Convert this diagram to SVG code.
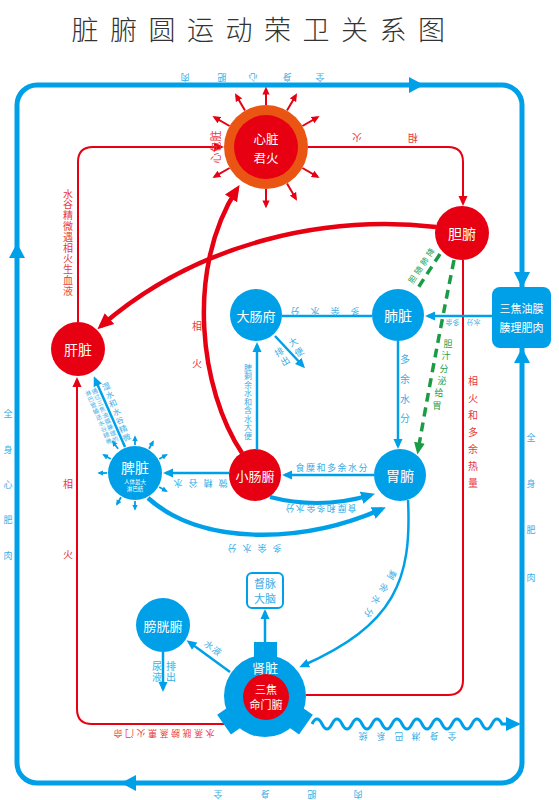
<svg xmlns="http://www.w3.org/2000/svg" width="559" height="800" viewBox="0 0 559 800">
<style>
text{font-family:"Noto Sans CJK SC","Noto Sans CJK JP","Noto Sans",sans-serif;text-anchor:middle;dominant-baseline:central}
.w{fill:#fff}
.b{fill:#3aaee6}
.r{fill:#e8383d}
.g{fill:#1f9e48}
.s5{font-size:5.5px}.s6{font-size:6px}.s7{font-size:7px}.s8{font-size:8px}.s9{font-size:9px}.s10{font-size:10px}.s11{font-size:11px}.s12{font-size:12px}.s125{font-size:12.5px}.s13{font-size:13px}.s14{font-size:14px}
.cb{stroke:#00a0e9;fill:none}
.cr{stroke:#e60012;fill:none}
.cg{stroke:#1a9b45;fill:none;stroke-width:3.5;stroke-dasharray:9,6}
.nb{fill:#00a0e9}.nr{fill:#e60012}
</style>
<defs>
<marker id="mb" viewBox="0 0 10 10" refX="7" refY="5" markerWidth="10" markerHeight="10" markerUnits="userSpaceOnUse" orient="auto"><path d="M0,0.5L10,5L0,9.5z" fill="#00a0e9"/></marker>
<marker id="mbt" viewBox="0 0 10 10" refX="7" refY="5" markerWidth="14" markerHeight="14" markerUnits="userSpaceOnUse" orient="auto"><path d="M0,0.5L10,5L0,9.5z" fill="#00a0e9"/></marker>
<marker id="mbs" viewBox="0 0 10 10" refX="7" refY="5" markerWidth="6" markerHeight="6" markerUnits="userSpaceOnUse" orient="auto"><path d="M0,0.5L10,5L0,9.5z" fill="#00a0e9"/></marker>
<marker id="mr" viewBox="0 0 10 10" refX="7" refY="5" markerWidth="10" markerHeight="10" markerUnits="userSpaceOnUse" orient="auto"><path d="M0,0.5L10,5L0,9.5z" fill="#e60012"/></marker>
<marker id="mrt" viewBox="0 0 10 10" refX="7" refY="5" markerWidth="16" markerHeight="16" markerUnits="userSpaceOnUse" orient="auto"><path d="M0,0.5L10,5L0,9.5z" fill="#e60012"/></marker>
<marker id="mrs" viewBox="0 0 10 10" refX="7" refY="5" markerWidth="8" markerHeight="8" markerUnits="userSpaceOnUse" orient="auto"><path d="M0,0.5L10,5L0,9.5z" fill="#e60012"/></marker>
<marker id="mg" viewBox="0 0 10 10" refX="7" refY="5" markerWidth="12" markerHeight="12" markerUnits="userSpaceOnUse" orient="auto"><path d="M0,0.5L10,5L0,9.5z" fill="#1a9b45"/></marker>
</defs>
<rect width="559" height="800" fill="#fff"/>
<text x="85 123.5 162 200.5 239 277.5 316 354.5 393 431.5" y="28" font-size="27" fill="#333" style="font-weight:300">脏腑圆运动荣卫关系图</text>

<g id="connectors">
<rect class="cb" x="17" y="85" width="505" height="698" rx="20" stroke-width="5"/>
<polygon class="nb" points="409,77 424,85 409,93"/>
<polygon class="nb" points="9,258 17,243 25,258"/>
<polygon class="nb" points="136,775 121,783 136,791"/>
<polygon class="nb" points="514,272 530,272 522,288"/>
<polygon class="nb" points="514,363 530,363 522,348"/>
<path class="cb" stroke-width="3" d="M312,724 q5,-10 10,0 t10,0 t10,0 t10,0 t10,0 t10,0 t10,0 t10,0 t10,0 t10,0 t10,0 t10,0 t10,0 t10,0 t10,0 t10,0 t10,0 t10,0 t10,0 L508,724"/>
<polygon class="nb" points="506,717 521,724 506,731"/>

<path class="cr" stroke-width="2" d="M78,322 L78,162 Q78,147 93,147 L221,147" marker-end="url(#mr)"/>
<path class="cr" stroke-width="2" d="M308,147 L448,147 Q463,147 463,162 L463,203" marker-end="url(#mr)"/>
<path class="cr" stroke-width="4.5" d="M436,227 C330,215 200,240 101,326" marker-end="url(#mrt)"/>
<path class="cr" stroke-width="4.5" d="M242,453 C200,390 185,270 237,189" marker-end="url(#mrt)"/>
<path class="cr" stroke-width="2" d="M463,260 L463,680 Q463,695 448,695 L306,695"/>
<path class="cr" stroke-width="2" d="M228,724 L92,724 Q77,724 77,709 L77,380" marker-end="url(#mr)"/>

<path class="cb" stroke-width="2.5" d="M492,316 L428,316" marker-end="url(#mb)"/>
<path class="cb" stroke-width="2.5" d="M282,316 L372,316"/>
<path class="cb" stroke-width="2.5" d="M398,341 L398,446" marker-end="url(#mb)"/>
<path class="cb" stroke-width="2.5" d="M257,449 L257,345" marker-end="url(#mb)"/>
<path class="cb" stroke-width="2.5" d="M275,336 L303,366" marker-end="url(#mb)"/>
<path class="cb" stroke-width="2.5" d="M374,475 L285,475" marker-end="url(#mb)"/>
<path class="cb" stroke-width="2.5" d="M229,473 L166,473" marker-end="url(#mb)"/>
<path class="cb" stroke-width="4" d="M270,497 Q320,510 371,495" marker-end="url(#mbt)"/>
<path class="cb" stroke-width="4.5" d="M148,498 C200,545 300,545 382,509" marker-end="url(#mbt)"/>
<path class="cb" stroke-width="2.5" d="M125,447 L95,379" marker-end="url(#mb)"/>
<path class="cb" stroke-width="2.5" d="M408,500 C412,580 395,625 302,666" marker-end="url(#mb)"/>
<path class="cb" stroke-width="2.5" d="M265,643 L265,612" marker-end="url(#mb)"/>
<path class="cb" stroke-width="2.5" d="M230,672 L189,642" marker-end="url(#mb)"/>
<path class="cb" stroke-width="2.5" d="M163,652 L163,689" marker-end="url(#mb)"/>

<path class="cg" d="M440,254 L416,291"/>
<path class="cg" d="M454,260 Q432,370 418,451" marker-end="url(#mg)"/>
</g>

<g id="labels">
<text class="b s9" x="185" y="77" transform="rotate(180 185 77)">肉</text>
<text class="b s9" x="222" y="77" transform="rotate(180 222 77)">肥</text>
<text class="b s9" x="253" y="77" transform="rotate(180 253 77)">心</text>
<text class="b s9" x="287" y="77" transform="rotate(180 287 77)">身</text>
<text class="b s9" x="320" y="77" transform="rotate(180 320 77)">全</text>
<text class="b s9" x="218" y="794" transform="rotate(180 218 794)">全</text>
<text class="b s9" x="265" y="794" transform="rotate(180 265 794)">身</text>
<text class="b s9" x="312" y="794" transform="rotate(180 312 794)">肥</text>
<text class="b s9" x="358" y="794" transform="rotate(180 358 794)">肉</text>
<text class="b s9" x="8 8 8 8 8" y="413 449 484 519 555">全身心肥肉</text>
<text class="b s9" x="531 531 531 531" y="437 483 529 577">全身肥肉</text>

<text class="r s10" x="357" y="138" transform="rotate(180 357 138)">火</text>
<text class="r s10" x="413" y="138" transform="rotate(180 413 138)">相</text>
<text class="r s10" x="68 68 68 68 68 68 68 68 68 68" y="193 203.8 214.6 225.4 236.2 247 257.8 268.6 279.4 290.2">水谷精微遇相火生血液</text>
<text class="r s10" x="68 68" y="483 553">相火</text>
<text class="r s10" x="197 197" y="325 362">相火</text>
<text class="r s10" x="473 473 473 473 473 473 473" y="380 397 414 431 448 465 482">相火和多余热量</text>
<text class="r s9" x="118" y="733" transform="rotate(180 118 733)">命</text>
<text class="r s9" x="129.5" y="733" transform="rotate(180 129.5 733)">门</text>
<text class="r s9" x="141" y="733" transform="rotate(180 141 733)">火</text>
<text class="r s9" x="152.5" y="733" transform="rotate(180 152.5 733)">熏</text>
<text class="r s9" x="164" y="733" transform="rotate(180 164 733)">蒸</text>
<text class="r s9" x="175.5" y="733" transform="rotate(180 175.5 733)">膀</text>
<text class="r s9" x="187" y="733" transform="rotate(180 187 733)">胱</text>
<text class="r s9" x="198.5" y="733" transform="rotate(180 198.5 733)">蒸</text>
<text class="r s9" x="210" y="733" transform="rotate(180 210 733)">水</text>

<text class="b s9" x="295" y="311" transform="rotate(180 295 311)">分</text>
<text class="b s9" x="315" y="311" transform="rotate(180 315 311)">水</text>
<text class="b s9" x="335" y="311" transform="rotate(180 335 311)">余</text>
<text class="b s9" x="355" y="311" transform="rotate(180 355 311)">多</text>
<text class="b s9" x="293" y="342" transform="rotate(-31 293 342)">大</text>
<text class="b s9" x="299" y="352" transform="rotate(-31 299 352)">便</text>
<text class="b s9" x="279" y="352" transform="rotate(-31 279 352)">排</text>
<text class="b s9" x="285" y="361" transform="rotate(-31 285 361)">出</text>
<text class="b s8" x="248 248 248 248 248 248 248 248 248" y="367 375.5 384 392.5 401 409.5 418 426.5 435">脾剩余水和含水大便</text>
<text class="b s10" x="405 405 405 405" y="358 378 398 417">多余水分</text>
<text class="b s7" x="449" y="323" transform="rotate(180 449 323)">余</text>
<text class="b s7" x="456" y="323" transform="rotate(180 456 323)">多</text>
<text class="b s7" x="470" y="323" transform="rotate(180 470 323)">分</text>
<text class="b s7" x="477" y="323" transform="rotate(180 477 323)">水</text>
<text class="b s9" x="178" y="483" transform="rotate(180 178 483)">水</text>
<text class="b s9" x="193" y="483" transform="rotate(180 193 483)">谷</text>
<text class="b s9" x="208" y="483" transform="rotate(180 208 483)">精</text>
<text class="b s9" x="223" y="483" transform="rotate(180 223 483)">微</text>
<text class="b s9" x="300 310.5 321 331.5 342 352.5 363" y="467">食糜和多余水分</text>
<text class="b s9" x="290" y="508" transform="rotate(180 290 508)">分</text>
<text class="b s9" x="300" y="508" transform="rotate(180 300 508)">水</text>
<text class="b s9" x="311" y="508" transform="rotate(180 311 508)">余</text>
<text class="b s9" x="321" y="508" transform="rotate(180 321 508)">多</text>
<text class="b s9" x="331" y="508" transform="rotate(180 331 508)">和</text>
<text class="b s9" x="342" y="508" transform="rotate(180 342 508)">糜</text>
<text class="b s9" x="352" y="508" transform="rotate(180 352 508)">食</text>
<text class="b s9" x="232" y="548" transform="rotate(180 232 548)">分</text>
<text class="b s9" x="247" y="548" transform="rotate(180 247 548)">水</text>
<text class="b s9" x="262" y="548" transform="rotate(180 262 548)">余</text>
<text class="b s9" x="277" y="548" transform="rotate(180 277 548)">多</text>
<text class="b s9" x="392" y="575" transform="rotate(120 392 575)">剩</text>
<text class="b s9" x="384" y="588" transform="rotate(120 384 588)">余</text>
<text class="b s9" x="376" y="600" transform="rotate(120 376 600)">水</text>
<text class="b s9" x="369" y="613" transform="rotate(120 369 613)">分</text>
<text class="b s9" x="209" y="645" transform="rotate(37 209 645)">水</text>
<text class="b s9" x="217" y="651" transform="rotate(37 217 651)">液</text>
<text class="b s10" x="157 157" y="665 676">尿液</text>
<text class="b s10" x="171 171" y="665 676">排出</text>
<text class="b s9" x="363" y="736" transform="rotate(180 363 736)">统</text>
<text class="b s9" x="381" y="736" transform="rotate(180 381 736)">系</text>
<text class="b s9" x="399" y="736" transform="rotate(180 399 736)">巴</text>
<text class="b s9" x="416" y="736" transform="rotate(180 416 736)">淋</text>
<text class="b s9" x="434" y="736" transform="rotate(180 434 736)">身</text>
<text class="b s9" x="452" y="736" transform="rotate(180 452 736)">全</text>

<text class="b s8" x="106" y="386" transform="rotate(-24 106 386)">湿</text>
<text class="b s8" x="109.4" y="394.5" transform="rotate(-24 109.4 394.5)">水</text>
<text class="b s8" x="112.8" y="403" transform="rotate(-24 112.8 403)">和</text>
<text class="b s8" x="116.2" y="411.5" transform="rotate(-24 116.2 411.5)">水</text>
<text class="b s8" x="119.6" y="420" transform="rotate(-24 119.6 420)">谷</text>
<text class="b s8" x="123" y="428.5" transform="rotate(-24 123 428.5)">精</text>
<text class="b s8" x="126.4" y="437" transform="rotate(-24 126.4 437)">微</text>
<text class="b s6" x="94.5" y="391" transform="rotate(-24 94.5 391)">通</text>
<text class="b s6" x="97.1" y="397" transform="rotate(-24 97.1 397)">过</text>
<text class="b s6" x="99.7" y="403" transform="rotate(-24 99.7 403)">三</text>
<text class="b s6" x="102.3" y="409" transform="rotate(-24 102.3 409)">焦</text>
<text class="b s6" x="104.9" y="415" transform="rotate(-24 104.9 415)">油</text>
<text class="b s6" x="107.5" y="421" transform="rotate(-24 107.5 421)">膜</text>
<text class="b s6" x="110.1" y="427" transform="rotate(-24 110.1 427)">腠</text>
<text class="b s6" x="112.7" y="433" transform="rotate(-24 112.7 433)">理</text>
<text class="b s6" x="115.3" y="439" transform="rotate(-24 115.3 439)">的</text>
<text class="b s6" x="88" y="393" transform="rotate(-24 88 393)">淋</text>
<text class="b s6" x="90.6" y="399" transform="rotate(-24 90.6 399)">巴</text>
<text class="b s6" x="93.2" y="405" transform="rotate(-24 93.2 405)">管</text>
<text class="b s6" x="95.8" y="411" transform="rotate(-24 95.8 411)">输</text>
<text class="b s6" x="98.4" y="417" transform="rotate(-24 98.4 417)">送</text>
<text class="b s6" x="101" y="423" transform="rotate(-24 101 423)">水</text>
<text class="b s6" x="103.6" y="429" transform="rotate(-24 103.6 429)">谷</text>
<text class="b s6" x="106.2" y="435" transform="rotate(-24 106.2 435)">精</text>
<text class="b s6" x="108.8" y="441" transform="rotate(-24 108.8 441)">微</text>

<text class="g s9" x="448 446 444 442 439 437" y="343 355 368 380 392 405">胆汁分泌给胃</text>
<text class="g s8" x="412" y="279" transform="rotate(-57 412 279)">胆</text>
<text class="g s8" x="418" y="270" transform="rotate(-57 418 270)">随</text>
<text class="g s8" x="424" y="261" transform="rotate(-57 424 261)">肺</text>
<text class="g s8" x="430" y="252" transform="rotate(-57 430 252)">降</text>
</g>

<g id="heart">
<g stroke="#e60012" stroke-width="2" marker-end="url(#mrs)">
<line x1="302.4" y1="126" x2="317.5" y2="117.3"/>
<line x1="287" y1="110.6" x2="295.8" y2="95.4"/>
<line x1="266" y1="105" x2="266" y2="89"/>
<line x1="245" y1="110.6" x2="236.2" y2="95.4"/>
<line x1="229.6" y1="126" x2="214.5" y2="117.3"/>
<line x1="229.6" y1="168" x2="214.5" y2="176.7"/>
<line x1="266" y1="189" x2="266" y2="206"/>
<line x1="287" y1="183.4" x2="295.8" y2="198.6"/>
<line x1="302.4" y1="168" x2="317.5" y2="176.7"/>
</g>
<circle cx="266" cy="147" r="42" fill="#ea5514"/>
<circle cx="266" cy="147" r="32" class="nr"/>
<text class="w s125" x="266" y="138">心脏</text>
<text class="w s125" x="266" y="157">君火</text>
<text class="r s11" x="215" y="147" transform="rotate(-90 215 147)">心包脏</text>
</g>

<g id="dan"><circle cx="462" cy="233" r="27" class="nr"/><text class="w s14" x="462" y="233">胆腑</text></g>
<g id="fei"><circle cx="398" cy="315" r="26" class="nb"/><text class="w s14" x="398" y="315">肺脏</text></g>
<g id="sanjiao-youmo"><rect x="492" y="287" width="59" height="61" rx="8" class="nb"/><text class="w s11" x="521.5" y="308">三焦油膜</text><text class="w s11" x="521.5" y="327">腠理肥肉</text></g>
<g id="dachang"><circle cx="256" cy="315" r="26" class="nb"/><text class="w s13" x="256" y="315">大肠府</text></g>
<g id="gan"><circle cx="78" cy="349" r="27" class="nr"/><text class="w s14" x="78" y="349">肝脏</text></g>
<g id="pi">
<g stroke="#00a0e9" stroke-width="1.8" marker-end="url(#mbs)">
<line x1="135" y1="445" x2="135" y2="437"/>
<line x1="149" y1="448.8" x2="153" y2="441.8"/>
<line x1="159.2" y1="459" x2="166.2" y2="455"/>
<line x1="159.2" y1="487" x2="166.2" y2="491"/>
<line x1="135" y1="501" x2="135" y2="509"/>
<line x1="121" y1="497.2" x2="117" y2="504.2"/>
<line x1="107" y1="473" x2="99" y2="473"/>
<line x1="110.8" y1="459" x2="103.8" y2="455"/>
<line x1="118" y1="448.8" x2="113" y2="441.8"/>
</g>
<circle cx="135" cy="473" r="27" class="nb"/>
<text class="w s14" x="135" y="467">脾脏</text>
<text class="w s5" x="135" y="481.5">人体最大</text>
<text class="w s5" x="135" y="489">淋巴结</text>
</g>
<g id="xiaochang"><circle cx="255" cy="475" r="26" class="nr"/><text class="w s13" x="255" y="475">小肠腑</text></g>
<g id="wei"><circle cx="400" cy="475" r="26" class="nb"/><text class="w s14" x="400" y="475">胃腑</text></g>
<g id="duma"><rect x="247" y="573" width="36" height="35" rx="5" fill="#fff" stroke="#00a0e9" stroke-width="2"/><text class="b s11" x="265" y="583">督脉</text><text class="b s11" x="265" y="598">大脑</text></g>
<g id="pangguang"><circle cx="163" cy="625" r="27" class="nb"/><text class="w s13" x="163" y="625">膀胱腑</text></g>
<g id="shen">
<rect x="254" y="642" width="23" height="16" class="nb"/>
<rect x="-12" y="-8" width="24" height="16" class="nb" transform="translate(299.4,720.1) rotate(-55)"/>
<rect x="-12" y="-8" width="24" height="16" class="nb" transform="translate(230.6,720.1) rotate(55)"/>
<circle cx="265" cy="696" r="41" class="nb"/>
<text class="w s13" x="265" y="667">肾脏</text>
<circle cx="266" cy="697" r="23" class="nr"/>
<text class="w s11" x="266" y="689">三焦</text>
<text class="w s11" x="266" y="704">命门腑</text>
</g>
</svg>
